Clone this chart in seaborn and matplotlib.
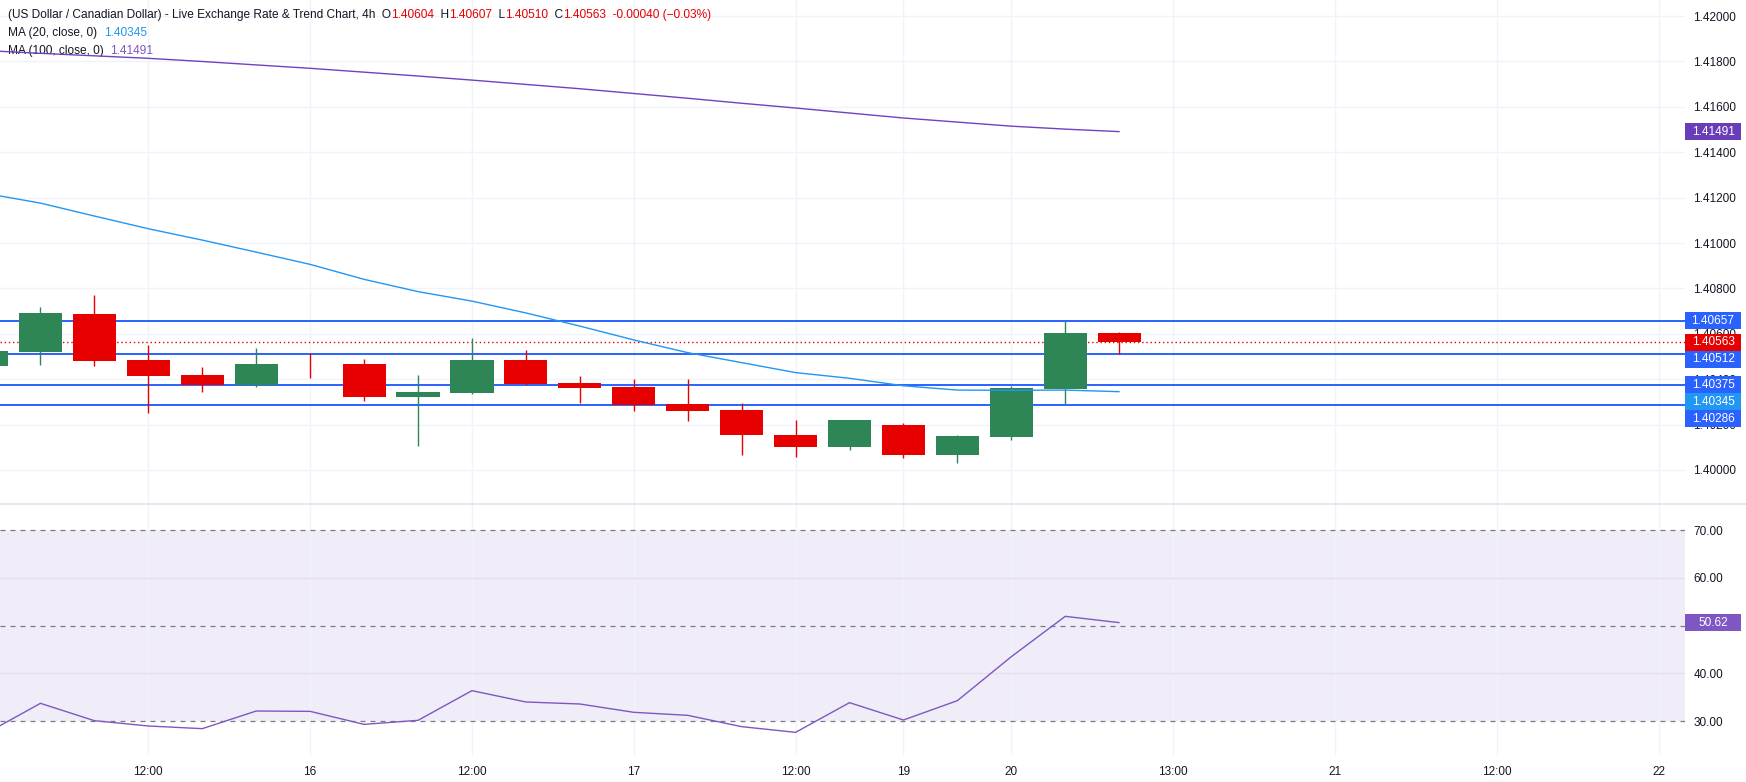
import numpy as np
import matplotlib
matplotlib.use("Agg")
import matplotlib.pyplot as plt
import matplotlib.transforms as mtransforms
from matplotlib.patches import Rectangle
from matplotlib.lines import Line2D
import seaborn as sns

sns.set_theme(style="white")
plt.rcParams['font.family'] = ['Liberation Sans', 'DejaVu Sans']

# USD/CAD 4h candles (first one is cut by the left edge)
opens = [1.40460, 1.40521, 1.40687, 1.40485, 1.40419, 1.40374, 1.40466, 1.40467, 1.40323, 1.40341, 1.40485,
         1.40383, 1.40366, 1.40291, 1.40264, 1.40154, 1.40103, 1.40198, 1.40068, 1.40147, 1.40358, 1.40604]
highs = [1.40530, 1.40718, 1.40771, 1.40551, 1.40454, 1.40537, 1.40515, 1.40489, 1.40419, 1.40582, 1.40529,
         1.40414, 1.40401, 1.40401, 1.40295, 1.40220, 1.40221, 1.40207, 1.40154, 1.40370, 1.40657, 1.40607]
lows = [1.40455, 1.40464, 1.40460, 1.40253, 1.40345, 1.40367, 1.40407, 1.40305, 1.40107, 1.40336, 1.40373,
        1.40295, 1.40261, 1.40217, 1.40068, 1.40059, 1.40090, 1.40054, 1.40032, 1.40134, 1.40291, 1.40510]
closes = [1.40524, 1.40692, 1.40482, 1.40416, 1.40374, 1.40467, 1.40465, 1.40323, 1.40344, 1.40485, 1.40379,
          1.40363, 1.40286, 1.40261, 1.40156, 1.40103, 1.40220, 1.40068, 1.40150, 1.40361, 1.40604, 1.40563]
ma20 = [1.41218, 1.41176, 1.41119, 1.41063, 1.41013, 1.40960, 1.40906, 1.40840, 1.40786, 1.40744, 1.40692,
        1.40634, 1.40573, 1.40517, 1.40473, 1.40429, 1.40404, 1.40371, 1.40352, 1.40351, 1.40352, 1.40345]
ma100 = [1.41848, 1.41836, 1.41825, 1.41814, 1.41800, 1.41785, 1.41770, 1.41753, 1.41736, 1.41718, 1.41699,
         1.41680, 1.41659, 1.41638, 1.41616, 1.41595, 1.41573, 1.41551, 1.41533, 1.41515, 1.41502, 1.41491]
rsi = [27.5, 33.74, 30.11, 29.0, 28.44, 32.13, 32.06, 29.34, 30.18, 36.39, 34.02,
       33.6, 31.86, 31.23, 28.86, 27.67, 33.88, 30.25, 34.3, 43.5, 51.94, 50.62]
levels = [1.40657, 1.40512, 1.40375, 1.40286]
change_text = "-0.00040 (\u22120.03%)"
tick_pos = [2, 5, 8, 11, 14, 16, 18, 21, 24, 27, 30]
tick_labels = ["12:00", "16", "12:00", "17", "12:00", "19", "20", "13:00", "21", "12:00", "22"]
price_ticks = [1.400, 1.402, 1.404, 1.406, 1.408, 1.410, 1.412, 1.414, 1.416, 1.418, 1.420]
rsi_ticks = [30, 40, 50, 60, 70]

GREEN = '#2E8656'
RED = '#E60000'
BLUE = '#2962FF'
MA20_C = '#2196F3'
MA100_C = '#6F42C1'
RSI_C = '#7E57C2'
TXT = '#131722'
GRID = '#F0F3FA'

W, H = 1746, 782
fig = plt.figure(figsize=(W / 100, H / 100), dpi=100)
ax = fig.add_axes([0, 1 - 504 / H, 1685 / W, 504 / H])
ax2 = fig.add_axes([0, 1 - 755 / H, 1685 / W, 251 / H], sharex=ax)

idx = np.arange(len(opens)) - 1
o, h, l, c = map(np.array, (opens, highs, lows, closes))
cols = np.where(c >= o, GREEN, RED)

# candles
ax.vlines(idx, l, h, colors=cols, lw=1, zorder=3)
ax.bar(idx, np.maximum(np.abs(c - o), 0.00004), bottom=np.minimum(o, c), width=0.8,
       color=cols, linewidth=0, zorder=4)

# moving averages
sns.lineplot(x=idx, y=ma20, ax=ax, color=MA20_C, lw=1, zorder=5)
sns.lineplot(x=idx, y=ma100, ax=ax, color=MA100_C, lw=1, zorder=5)

# horizontal levels + last price
for lv in levels:
    ax.axhline(lv, color=BLUE, lw=1.4, zorder=2)
ax.axhline(closes[-1], color=RED, lw=1, ls=(0, (1, 2)), zorder=2)

ax.set_xlim(-0.75, 30.49)
ax.set_ylim(1.3985, 1.42071)
ax.set_xticks(tick_pos)
ax.set_yticks(price_ticks, [f"{v:.5f}" for v in price_ticks])
ax.yaxis.tick_right()
ax.tick_params(axis='both', length=0, labelbottom=False)
ax.tick_params(axis='y', pad=6, labelsize=8.5, labelcolor=TXT)
ax.grid(True, color=GRID, lw=1)
ax.set_axisbelow(True)
ax.set_xlabel('')
ax.set_ylabel('')
for s in ax.spines.values():
    s.set_visible(False)

# RSI pane
ax2.axhspan(30, 70, color=RSI_C, alpha=0.1, lw=0, zorder=0)
for v in (40, 60):
    ax2.axhline(v, color='#E3DEEE', lw=1, zorder=1)
for v in (30, 50, 70):
    ax2.axhline(v, color='#787B86', lw=0.9, ls=(0, (4, 4)), zorder=2)
sns.lineplot(x=idx, y=rsi, ax=ax2, color=RSI_C, lw=1, zorder=4)
ax2.set_ylim(22.93, 75.44)
ax2.set_xticks(tick_pos, tick_labels)
ax2.set_yticks(rsi_ticks, [f"{v:.2f}" for v in rsi_ticks])
ax2.yaxis.tick_right()
ax2.tick_params(axis='both', length=0, labelsize=8.5, labelcolor=TXT)
ax2.tick_params(axis='y', pad=6)
ax2.tick_params(axis='x', pad=8)
ax2.grid(True, axis='x', color=GRID, lw=1)
ax2.set_axisbelow(True)
ax2.set_xlabel('')
ax2.set_ylabel('')
for s in ax2.spines.values():
    s.set_visible(False)

fig.add_artist(Line2D([0, 1], [1 - 504 / H, 1 - 504 / H], transform=fig.transFigure,
                      color='#E0E3EB', lw=1.2))


def price_boxes(axis, items, fmt, box_px=17):
    # value tags on the price scale, pushed down when they overlap
    y0, y1 = axis.get_ylim()
    bh = box_px * (y1 - y0) / (axis.get_position().height * H)
    trans = mtransforms.blended_transform_factory(fig.transFigure, axis.transData)
    prev = None
    for val, col in sorted(items, key=lambda t: -t[0]):
        y = val if prev is None else min(val, prev - bh)
        prev = y
        axis.add_patch(Rectangle((1685 / W, y - bh / 2), 56 / W, bh, transform=trans,
                                 facecolor=col, lw=0, clip_on=False, zorder=10))
        axis.text(1713 / W, y, fmt % val, transform=trans, color='white', fontsize=8.5,
                  ha='center', va='center', clip_on=False, zorder=11)


price_boxes(ax, [(ma100[-1], '#6A3DB8'), (levels[0], BLUE), (closes[-1], RED), (levels[1], BLUE),
                 (levels[2], BLUE), (ma20[-1], MA20_C), (levels[3], BLUE)], '%.5f')
price_boxes(ax2, [(rsi[-1], RSI_C)], '%.2f')


def legend_line(y_px, parts, size=8.6):
    t = ax.annotate(parts[0][0], xy=(8 / W, 1 - y_px / H), xycoords='figure fraction',
                    color=parts[0][1], fontsize=size, va='center', annotation_clip=False)
    for s, col in parts[1:]:
        t = ax.annotate(s, xy=(1, 0), xycoords=t, color=col, fontsize=size,
                        va='bottom', annotation_clip=False)


legend_line(15, [("(US Dollar / Canadian Dollar) - Live Exchange Rate & Trend Chart, 4h  O", TXT),
                 (f"{opens[-1]:.5f}", RED), ("  H", TXT), (f"{highs[-1]:.5f}", RED),
                 ("  L", TXT), (f"{lows[-1]:.5f}", RED), ("  C", TXT), (f"{closes[-1]:.5f}", RED),
                 ("  " + change_text, RED)])
legend_line(33, [("MA (20, close, 0)  ", TXT), (f"{ma20[-1]:.5f}", MA20_C)])
legend_line(51, [("MA (100, close, 0)  ", TXT), (f"{ma100[-1]:.5f}", RSI_C)])
legend_line(521, [("RSI (14)  ", TXT), (f"{rsi[-1]:.2f}", RSI_C)])

fig.savefig("out.png", dpi=100, facecolor='white')
